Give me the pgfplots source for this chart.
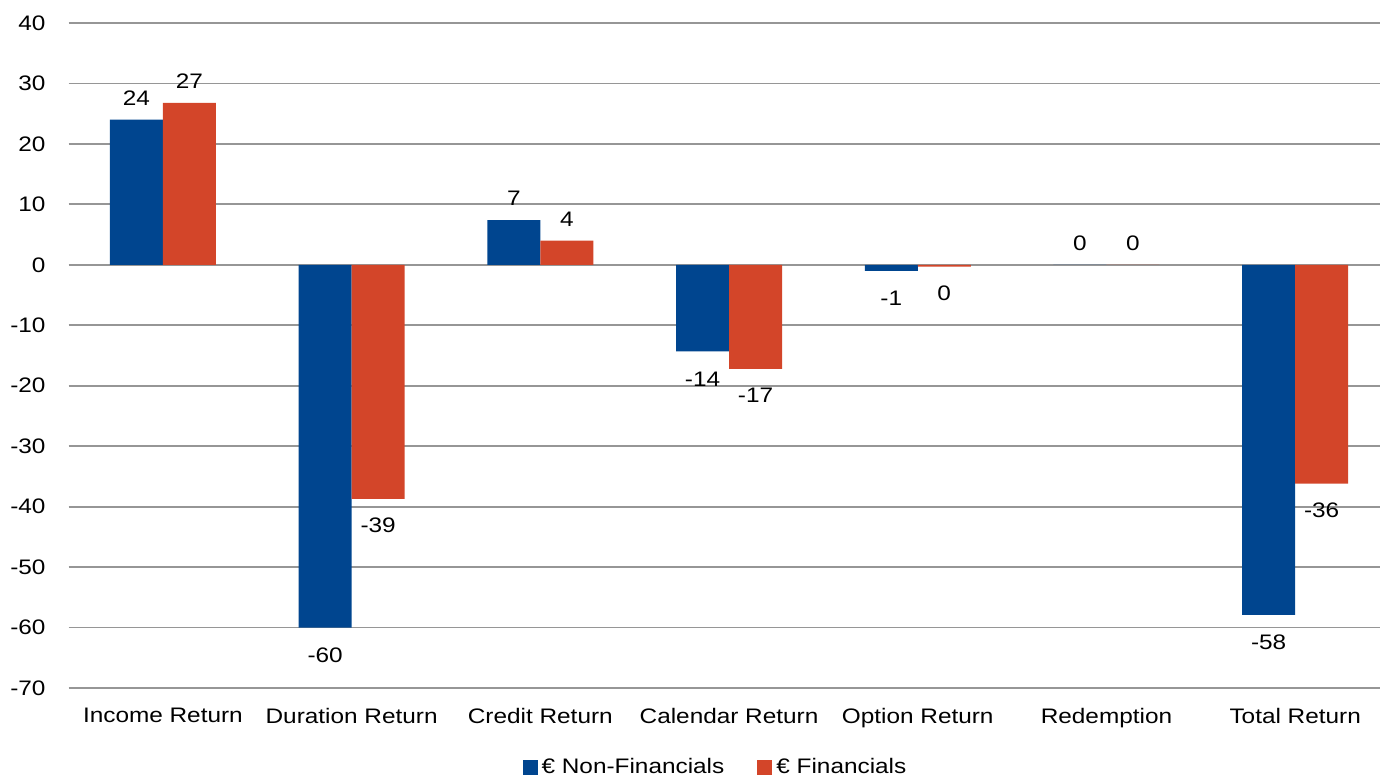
\documentclass[border=0pt]{standalone}
\usepackage{fontspec}
\setmainfont{Liberation Sans}[FakeStretch=1.16]
\usepackage{pgfplots}
\pgfplotsset{compat=1.18}
\definecolor{nfblue}{RGB}{0,69,143}
\definecolor{fred}{RGB}{211,69,41}
\definecolor{gridgray}{RGB}{150,150,150}
\begin{document}
\begin{tikzpicture}[font=\fontsize{10.5}{12.6}\selectfont]
\begin{axis}[
  scale only axis,
  width=660.5pt, height=332.5pt,
  ybar=0pt, bar width=26.5pt,
  xmin=-0.5, xmax=6.5,
  ymin=-70, ymax=40,
  ytick={-70,-60,...,40},
  xtick={0,...,6},
  xticklabels={Income Return, Duration Return, Credit Return, Calendar Return, Option Return, Redemption, Total Return},
  /pgf/number format/assume math mode=true,
  major tick length=0pt,
  axis line style={draw=none},
  ymajorgrids, grid style={gridgray, line width=0.9pt},
  yticklabel style={xshift=-8pt},
  xticklabel style={yshift=-6.5pt},
  point meta=explicit symbolic,
  nodes near coords,
  every node near coord/.append style={font=\fontsize{10.5}{12.6}\selectfont, text=black},
  legend columns=2,
  legend style={draw=none, at={(0.4905,-0.12)}, anchor=center,
    /tikz/every even column/.append style={column sep=14.5pt}},
  legend image code/.code={\fill[#1] (0pt,-3.75pt) rectangle (7.5pt,3.75pt);},
  clip=false,
]
% positive values: labels above
\addplot[fill=nfblue, draw=none, bar shift=-13.25pt,
  every node near coord/.append style={anchor=south, inner ysep=7pt}] coordinates {
  (0,24.0) [24] (2,7.4) [7] (5,0) [0]
};
\addplot[fill=fred, draw=none, bar shift=13.25pt,
  every node near coord/.append style={anchor=south, inner ysep=7pt}] coordinates {
  (0,26.8) [27] (2,4.0) [4] (5,0) [0]
};
% negative values: labels below
\addplot[fill=nfblue, draw=none, bar shift=-13.25pt, forget plot,
  every node near coord/.append style={anchor=north, inner ysep=10pt}] coordinates {
  (1,-60.0) [-60] (3,-14.3) [-14] (4,-1.0) [-1] (6,-57.9) [-58]
};
\addplot[fill=fred, draw=none, bar shift=13.25pt, forget plot,
  every node near coord/.append style={anchor=north, inner ysep=9.5pt}] coordinates {
  (1,-38.7) [-39] (3,-17.2) [-17] (4,-0.3) [0] (6,-36.2) [-36]
};
\legend{€ Non-Financials, € Financials}
\coordinate (bbsw) at (rel axis cs:-0.0519,-0.1323);
\coordinate (bbne) at (rel axis cs:0.9928,1.0346);
\end{axis}
\pgfresetboundingbox
\path (bbsw) rectangle (bbne);
\end{tikzpicture}
\end{document}
